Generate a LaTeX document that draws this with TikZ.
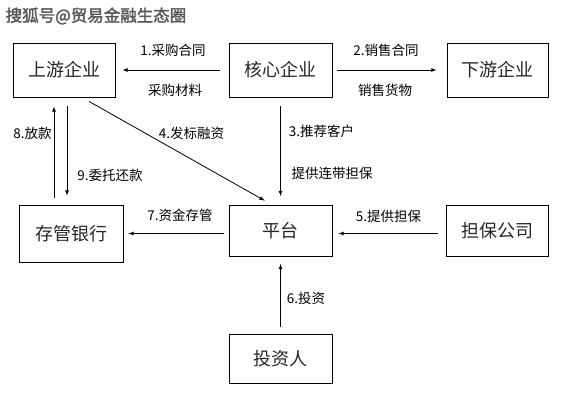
\documentclass[tikz,border=0pt]{standalone}
\usepackage{fontspec}
\usepackage{tikz}
\usetikzlibrary{arrows}
\newfontfamily\cjk{Noto Sans CJK SC}
\newfontfamily\cjkbold[FakeBold=2]{Noto Sans CJK SC}

\begin{document}
\begin{tikzpicture}[x=1pt,y=-1pt]
\tikzstyle{every node}=[inner sep=0pt]
\tikzstyle{box}=[draw,line width=0.9pt,rectangle,minimum width=102pt,minimum height=54pt,font=\cjk\fontsize{18}{18}\selectfont,text=black!85]
\tikzstyle{lbl}=[font=\cjk\fontsize{13.5}{14}\selectfont,text=black]
\tikzstyle{arr}=[draw,line width=0.8pt,-latex]
\useasboundingbox (0,0) rectangle (580,409);
\node[font=\cjkbold\fontsize{16.5}{17}\selectfont,text=black!65] (title) at (96,16) {搜狐号@贸易金融生态圈};
\node[box] (up) at (64,70) {上游企业};
\node[box,minimum width=103pt] (core) at (280.5,70) {核心企业};
\node[box,minimum width=101pt] (down) at (497.5,70) {下游企业};
\node[box,minimum width=104pt,minimum height=57pt] (bank) at (71,233.5) {存管银行};
\node[box,minimum width=103pt,minimum height=51pt] (plat) at (280.5,231) {平台};
\node[box,minimum height=51pt] (guar) at (497,231) {担保公司};
\node[box,minimum width=103pt,minimum height=49pt] (inv) at (280.5,358.5) {投资人};
\draw[arr,shorten <=9pt,shorten >=7pt] (core.west) -- (up.east);
\draw[arr,shorten <=5pt,shorten >=10pt] (core.east) -- (down.west);
\draw[arr,shorten <=9pt,shorten >=9pt] (core.south) -- (plat.north);
\draw[arr,shorten <=8pt,shorten >=9pt] ([xshift=18pt]up.south) -- ([xshift=-8pt]plat.north);
\draw[arr,shorten <=7pt,shorten >=9pt] ([xshift=-17pt]bank.north) -- ([xshift=-17pt]bank.north |- up.south);
\draw[arr,shorten <=9pt,shorten >=9pt] ([xshift=-4pt]bank.north |- up.south) -- ([xshift=-4pt]bank.north);
\draw[arr,shorten <=5pt,shorten >=5pt] (plat.west |- bank.east) -- (bank.east);
\draw[arr,shorten <=8pt,shorten >=6pt] (guar.west |- bank.east) -- (plat.east |- bank.east);
\draw[arr,shorten <=7pt,shorten >=7pt] (inv.north) -- (plat.south);
\node[lbl] (l1a) at (173,50) {1.采购合同};
\node[lbl] (l1b) at (175,90) {采购材料};
\node[lbl] (l2a) at (386,50) {2.销售合同};
\node[lbl] (l2b) at (385,90) {销售货物};
\node[lbl] (l3a) at (321.5,131) {3.推荐客户};
\node[lbl] (l3b) at (332,173) {提供连带担保};
\node[lbl] (l4) at (191.5,133) {4.发标融资};
\node[lbl] (l8) at (32.5,133) {8.放款};
\node[lbl] (l9) at (110,175) {9.委托还款};
\node[lbl] (l7) at (180,215) {7.资金存管};
\node[lbl] (l5) at (388.5,216) {5.提供担保};
\node[lbl] (l6) at (306,298) {6.投资};
\end{tikzpicture}
\end{document}
